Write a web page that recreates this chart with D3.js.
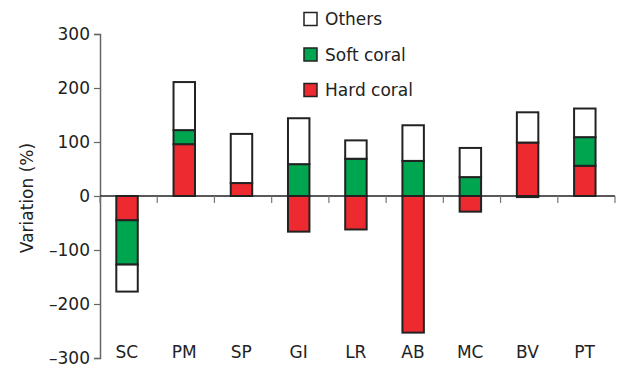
<!DOCTYPE html>
<html>
<head>
<meta charset="utf-8">
<script src="https://cdn.jsdelivr.net/npm/d3@7"></script>
<style>
  html, body { margin: 0; padding: 0; background: #fff; }
  svg { display: block; font-family: "DejaVu Sans", sans-serif; }
</style>
</head>
<body>
<svg id="chart" width="621" height="370"></svg>
<script>
const sites = ["SC", "PM", "SP", "GI", "LR", "AB", "MC", "BV", "PT"];
const hardCoral = [-45, 96, 24, -66, -62, -253, -29, 99, 56];
const softCoral = [-82, 26, 0, 59, 69, 65, 35, -2, 53];
const others = [-50, 89, 91, 85, 34, 66, 54, 56, 53];
const yTicks = [-300, -200, -100, 0, 100, 200, 300];
const seriesNames = ["Hard coral", "Soft coral", "Others"];
const colors = { "Hard coral": "#ec2a2f", "Soft coral": "#00a64f", "Others": "#ffffff" };

const rows = sites.map((s, i) => ({
  site: s,
  "Hard coral": hardCoral[i],
  "Soft coral": softCoral[i],
  "Others": others[i]
}));

const svg = d3.select("#chart");
const x = d3.scaleBand().domain(sites).range([100, 615]).padding(0);
const y = d3.scaleLinear().domain([-300, 300]).range([358, 34]);

const stack = d3.stack().keys(seriesNames).offset(d3.stackOffsetDiverging);
const stacked = stack(rows);

// y axis
const yAxis = svg.append("g").attr("transform", "translate(100,0)")
  .call(d3.axisLeft(y).tickValues(yTicks).tickSize(6).tickPadding(4)
    .tickFormat(d => d < 0 ? "–" + Math.abs(d) : d));
yAxis.select(".domain").attr("stroke", "#666").attr("stroke-width", 1.5);
yAxis.selectAll(".tick line").attr("stroke", "#666").attr("stroke-width", 1.2);
yAxis.selectAll(".tick text").attr("font-size", 17).attr("fill", "#222")
  .attr("font-family", "DejaVu Sans, sans-serif");

// bars
const step = x.step();
const g = svg.append("g");
stacked.forEach(layer => {
  g.selectAll(null).data(layer).enter().append("rect")
    .attr("x", d => x(d.data.site) + step * 0.285)
    .attr("width", step * 0.375)
    .attr("y", d => y(Math.max(d[0], d[1])))
    .attr("height", d => Math.abs(y(d[0]) - y(d[1])))
    .attr("fill", colors[layer.key])
    .attr("stroke", "#222")
    .attr("stroke-width", 2);
});

// zero line with ticks at band boundaries
const zeroG = svg.append("g");
zeroG.append("line")
  .attr("x1", 100).attr("x2", 615).attr("y1", y(0)).attr("y2", y(0))
  .attr("stroke", "#222").attr("stroke-width", 1.5);
const boundaries = sites.map(s => x(s)).concat([x(sites[sites.length - 1]) + step]);
zeroG.selectAll(null).data(boundaries).enter().append("line")
  .attr("x1", d => d).attr("x2", d => d)
  .attr("y1", y(0)).attr("y2", y(0) + 7)
  .attr("stroke", "#777").attr("stroke-width", 1.2);

// x labels
svg.append("g").selectAll(null).data(sites).enter().append("text")
  .attr("x", d => x(d) + step * 0.47)
  .attr("y", 358)
  .attr("text-anchor", "middle")
  .attr("font-size", 17)
  .attr("fill", "#222")
  .text(d => d);

// y label
svg.append("text")
  .attr("transform", "translate(33,198) rotate(-90)")
  .attr("text-anchor", "middle")
  .attr("font-size", 17)
  .attr("fill", "#222")
  .text("Variation (%)");

// legend
const legendItems = ["Others", "Soft coral", "Hard coral"];
const lg = svg.append("g");
legendItems.forEach((k, i) => {
  const yy = 12.5 + i * 35.5;
  lg.append("rect").attr("x", 304).attr("y", yy).attr("width", 13).attr("height", 13)
    .attr("fill", colors[k]).attr("stroke", "#222").attr("stroke-width", 1.5);
  lg.append("text").attr("x", 325).attr("y", yy + 12.5)
    .attr("font-size", 17).attr("fill", "#222").text(k);
});
</script>
</body>
</html>
